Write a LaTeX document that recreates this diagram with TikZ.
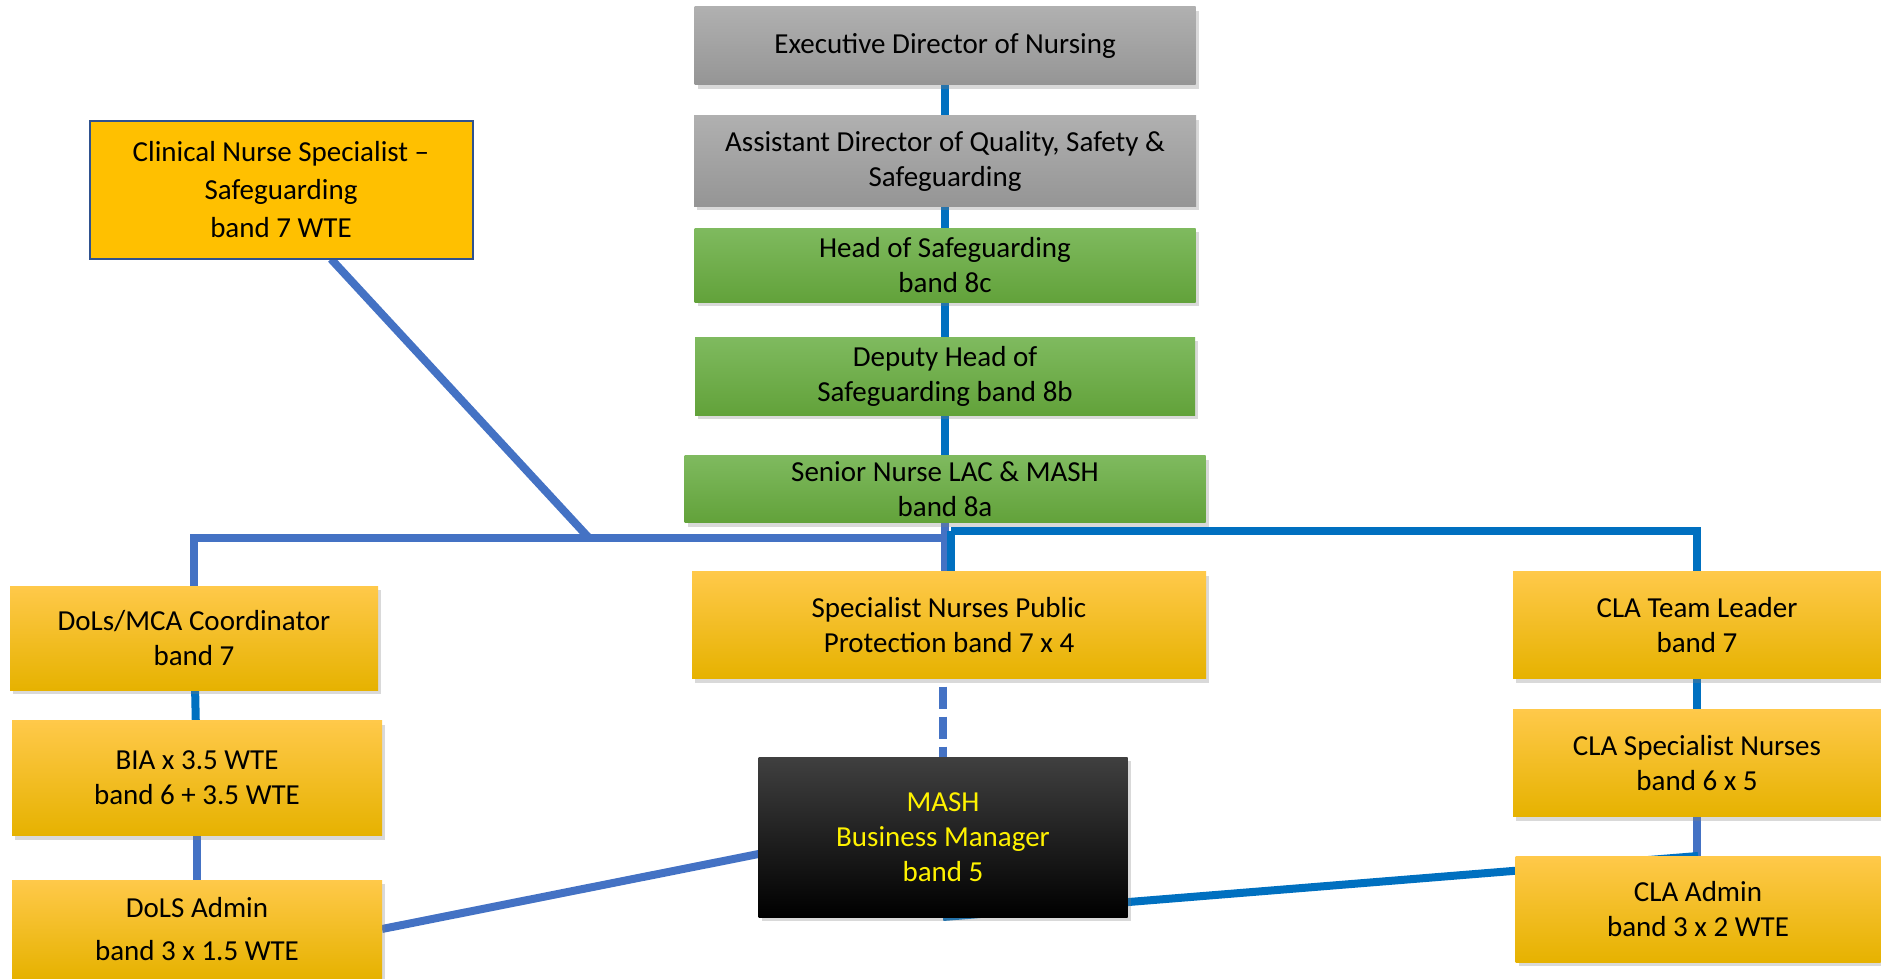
\documentclass[tikz,border=0pt]{standalone}
\usepackage{fontspec}
\setmainfont{Carlito}
\usetikzlibrary{shadows,backgrounds}

\definecolor{lnblue}{HTML}{0070C0}
\definecolor{lnsteel}{HTML}{4472C4}
\definecolor{ytop}{HTML}{FFC94A}
\definecolor{ymid}{HTML}{FFC000}
\definecolor{ybot}{HTML}{E6B200}
\definecolor{grtop}{HTML}{7FBA5F}
\definecolor{grmid}{HTML}{70AD47}
\definecolor{grbot}{HTML}{62A23A}
\definecolor{gytop}{HTML}{B0B0B0}
\definecolor{gymid}{HTML}{A5A5A5}
\definecolor{gybot}{HTML}{959595}
\definecolor{cnsfill}{HTML}{FFC000}
\definecolor{cnsline}{HTML}{2F528F}

\begin{document}
\begin{tikzpicture}
    [x=1pt, y=-1pt,
     every node/.style = {rectangle, inner sep=0pt, outer sep=0pt, align=center,
        font=\fontsize{29}{35}\selectfont},
     sz/.style 2 args = {minimum width=#1pt, minimum height=#2pt},
     box/.style = {drop shadow={shadow xshift=3pt, shadow yshift=-4pt, opacity=.3}},
     gbox/.style = {box, top color=gytop, middle color=gymid, bottom color=gybot},
     grbox/.style = {box, top color=grtop, middle color=grmid, bottom color=grbot},
     ybox/.style = {box, top color=ytop, middle color=ymid, bottom color=ybot},
     mbox/.style = {box, top color=black!75, middle color=black, bottom color=black, text=yellow},
     cbox/.style = {fill=cnsfill, draw=cnsline, line width=2pt},
     lnk/.style = {draw=lnblue, line width=8pt},
     lnkb/.style = {draw=lnsteel, line width=8pt}]
    \useasboundingbox (0,0) rectangle (1881,979);

    % centre column
    \node[gbox, sz={501}{78}] (exec) at (945,46) {Executive Director of Nursing};
    \node[gbox, sz={502}{90}] (asst) at (945,161) {Assistant Director of Quality, Safety \&\\Safeguarding};
    \node[grbox, sz={501}{74}] (head) at (945,265) {Head of Safeguarding\\band 8c};
    \node[grbox, sz={500}{78}] (deputy) at (945,376) {Deputy Head of\\Safeguarding band 8b};
    \node[grbox, sz={521}{67}] (senior) at (945,489) {Senior Nurse LAC \& MASH\\band 8a};
    \node[ybox, sz={514}{107}] (spec) at (949,625) {Specialist Nurses Public\\Protection band 7 x 4};
    \node[mbox, sz={369}{160}] (mash) at (943,837) {MASH\\Business Manager\\band 5};

    % left
    \node[cbox, sz={383}{138}] (cns) at (281,190) {Clinical Nurse Specialist –\\[3pt]Safeguarding\\[3pt]band 7 WTE};
    \node[ybox, sz={368}{104}] (dols) at (194,638) {DoLs/MCA Coordinator\\band 7};
    \node[ybox, sz={370}{115}] (bia) at (197,778) {BIA x 3.5 WTE\\band 6 + 3.5 WTE};
    \node[ybox, sz={370}{98}] (dolsadm) at (197,929) {DoLS Admin\\[8pt]band 3 x 1.5 WTE};

    % right
    \node[ybox, sz={368}{107}] (clatl) at (1697,625) {CLA Team Leader\\band 7};
    \node[ybox, sz={368}{107}] (claspec) at (1697,763) {CLA Specialist Nurses\\band 6 x 5};
    \node[ybox, sz={365}{106}] (claadm) at (1698,909) {CLA Admin\\band 3 x 2 WTE};

    \coordinate (lj) at (944,538);
    \coordinate (rj) at (951,531);
    \coordinate (cj) at (589,538);

    \begin{scope}[on background layer]
      \foreach \from/\to in {exec/asst,asst/head,head/deputy,deputy/senior}
        \draw[lnk] (\from.south) -- (\to.north);
      \draw[lnkb] (senior.south) -- (senior.south |- spec.north);
      \draw[lnkb] (lj) -| (dols.north);
      \draw[lnkb] ([xshift=50pt]cns.south) -- (cj);
      \draw[lnk] (rj) -| (clatl.north);
      \draw[lnk] (rj) -- (rj |- spec.north);
      \draw[lnk] (dols) -- (bia);
      \draw[lnkb] (bia) -- (dolsadm);
      \draw[lnk] (clatl) -- (claspec);
      \draw[lnkb] (claspec.south) -- (claspec.south |- claadm.north);
      \draw[lnkb, dash pattern=on 22pt off 8pt, dash phase=22pt] (mash.north |- spec.south) -- (mash.north);
      \draw[lnkb] (dolsadm.east) -- ([yshift=-17pt]mash.west);
      \draw[lnk] (mash.south) -- (claadm.north);
    \end{scope}
\end{tikzpicture}
\end{document}
